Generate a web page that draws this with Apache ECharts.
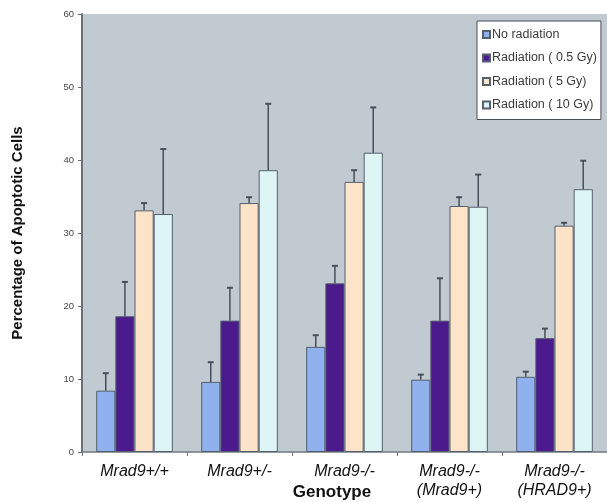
<!DOCTYPE html>
<html>
<head>
<meta charset="utf-8">
<script src="https://cdn.jsdelivr.net/npm/echarts@6/dist/echarts.min.js"></script>
<style>html,body{margin:0;padding:0;background:#fff;}#c{width:607px;height:502px;}</style>
</head>
<body>
<div id="c"></div>
<script>
const categories = ['Mrad9+/+', 'Mrad9+/-', 'Mrad9-/-', 'Mrad9-/-\n(Mrad9+)', 'Mrad9-/-\n(HRAD9+)'];
const seriesNames = ['No radiation', 'Radiation ( 0.5 Gy)', 'Radiation ( 5 Gy)', 'Radiation ( 10 Gy)'];
const noRadiation = [8.4, 9.6, 14.4, 9.9, 10.3];
const rad05 = [18.6, 18.0, 23.1, 18.0, 15.6];
const rad5 = [33.1, 34.1, 37.0, 33.7, 31.0];
const rad10 = [32.6, 38.6, 41.0, 33.6, 36.0];
const errNoRadiation = [2.4, 2.7, 1.6, 0.7, 0.7];
const err05 = [4.7, 4.5, 2.4, 5.8, 1.3];
const err5 = [1.0, 0.8, 1.6, 1.2, 0.4];
const err10 = [8.9, 9.1, 6.2, 4.4, 3.9];
const yTicks = [0, 10, 20, 30, 40, 50, 60];

const values = [noRadiation, rad05, rad5, rad10];
const errors = [errNoRadiation, err05, err5, err10];
const colors = ['#8fb1ee', '#4b1a8c', '#fde4c9', '#ddf5f5'];
const gapRatio = 0.27;
const nSeries = 4;
const FONT = 'Arial, Liberation Sans, sans-serif';

const barSeries = seriesNames.map((name, i) => ({
  name: name,
  type: 'bar',
  data: values[i],
  barGap: '0%',
  barCategoryGap: '27%',
  itemStyle: { color: colors[i], borderColor: '#55606c', borderWidth: 1 },
  z: 2
}));

const errSeries = seriesNames.map((name, i) => ({
  type: 'custom',
  z: 5,
  silent: true,
  data: values[i].map((v, k) => [k, v, v + errors[i][k]]),
  renderItem: function (params, api) {
    const k = api.value(0);
    const p0 = api.coord([k, api.value(1)]);
    const p1 = api.coord([k, api.value(2)]);
    const band = api.size([1, 0])[0];
    const bw = band * (1 - gapRatio) / nSeries;
    const x = p0[0] - band * (1 - gapRatio) / 2 + (i + 0.5) * bw;
    return {
      type: 'group',
      children: [
        { type: 'line', shape: { x1: x, y1: p0[1], x2: x, y2: p1[1] }, style: { stroke: '#47505a', lineWidth: 1.5 } },
        { type: 'line', shape: { x1: x - 3, y1: p1[1], x2: x + 3, y2: p1[1] }, style: { stroke: '#47505a', lineWidth: 2 } }
      ]
    };
  }
}));

const chart = echarts.init(document.getElementById('c'), null, { renderer: 'canvas' });
chart.setOption({
  animation: false,
  backgroundColor: '#ffffff',
  textStyle: { fontFamily: FONT },
  grid: { left: 82, right: -5, top: 14, bottom: 50, show: true, backgroundColor: '#c1c9d1', borderWidth: 0 },
  legend: {
    data: seriesNames,
    orient: 'vertical',
    left: 477,
    top: 21,
    backgroundColor: '#ffffff',
    borderColor: '#4a4f58',
    borderWidth: 1,
    borderRadius: 0,
    padding: [7, 4, 8, 5],
    itemWidth: 7,
    itemHeight: 7,
    itemGap: 10.5,
    icon: 'rect',
    textStyle: { fontSize: 12.5, color: '#3a3a3a', padding: [0, 0, 0, -3], fontFamily: FONT }
  },
  xAxis: {
    type: 'category',
    data: categories,
    axisLine: { lineStyle: { color: '#707880', width: 1.5 } },
    axisTick: { show: true, length: 4, lineStyle: { color: '#707880' } },
    axisLabel: { fontSize: 16, fontStyle: 'italic', color: '#111', lineHeight: 19, margin: 10, interval: 0 }
  },
  yAxis: {
    type: 'value',
    min: yTicks[0],
    max: yTicks[yTicks.length - 1],
    interval: 10,
    name: 'Percentage of Apoptotic Cells',
    nameLocation: 'middle',
    nameGap: 57,
    nameRotate: 90,
    nameTextStyle: { fontSize: 15, fontWeight: 'bold', color: '#111' },
    splitLine: { show: false },
    axisLine: { show: true, lineStyle: { color: '#6a727c', width: 2 } },
    axisTick: { show: true, length: 4, lineStyle: { color: '#6a727c' } },
    axisLabel: { fontSize: 9.5, color: '#444', margin: 8 }
  },
  graphic: [
    { type: 'text', x: 332, y: 492, style: { text: 'Genotype', fontSize: 17, fontWeight: 'bold', fill: '#111', fontFamily: FONT, textAlign: 'center', textVerticalAlign: 'middle' } }
  ],
  series: barSeries.concat(errSeries)
});
</script>
</body>
</html>
